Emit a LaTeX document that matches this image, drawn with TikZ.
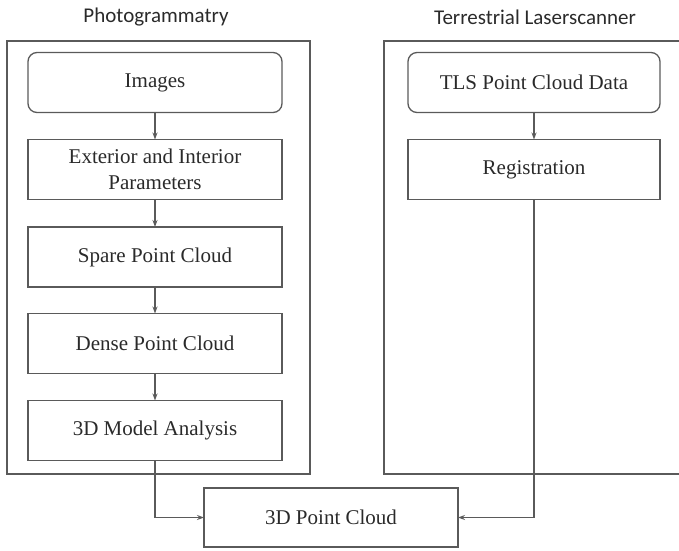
\documentclass[tikz,border=0pt]{standalone}
\usepackage{fontspec}
\setmainfont{Liberation Serif}
\newfontfamily\titlefont{Carlito}
\usetikzlibrary{arrows.meta}
\definecolor{linegray}{HTML}{5A5A5A}
\definecolor{textgray}{HTML}{2A2A2A}
\begin{document}
\begin{tikzpicture}[x=1pt,y=-1pt,
  every node/.style={inner sep=0pt,outer sep=0pt},
  procbox/.style={draw=linegray,line width=1.3pt,minimum width=254pt,minimum height=60pt,
    align=center,font=\fontsize{21}{26}\selectfont,text=textgray},
  startbox/.style={procbox,rounded corners=9pt},
  frame/.style={draw=linegray,line width=1.3pt},
  title/.style={font=\titlefont\fontsize{21}{25}\selectfont,text=textgray},
  flow/.style={draw=linegray,line width=1.1pt,-{Stealth[length=7pt,width=5pt]}}]
\useasboundingbox (0,0) rectangle (679,550);
% frames
\draw[frame] (7,41) rectangle (310,474);
\draw[frame] (681,41) -- (384,41) -- (384,474) -- (681,474);
% titles
\node[title] (t1) at (156,17) {Photogrammatry};
\node[title] (t2) at (535,17) {Terrestrial Laserscanner};
% left column
\node[startbox] (img) at (155,82.5) {Images};
\node[procbox] (ext) at (155,169.5) {Exterior and Interior\\Parameters};
\node[procbox] (spa) at (155,257) {Spare Point Cloud};
\node[procbox] (den) at (155,343.5) {Dense Point Cloud};
\node[procbox] (mod) at (155,430.5) {3D Model Analysis};
% right column
\node[startbox,minimum width=252pt] (tls) at (534,82.5) {TLS Point Cloud Data};
\node[procbox,minimum width=252pt] (reg) at (534,169.5) {Registration};
% bottom
\node[procbox,minimum height=59pt] (pc) at (331,517.5) {3D Point Cloud};
% connectors
\draw[flow] (img) -- (ext);
\draw[flow] (ext) -- (spa);
\draw[flow] (spa) -- (den);
\draw[flow] (den) -- (mod);
\draw[flow] (tls) -- (reg);
\draw[flow] (mod.south) |- (pc.west);
\draw[flow] (reg.south) |- (pc.east);
\end{tikzpicture}
\end{document}
